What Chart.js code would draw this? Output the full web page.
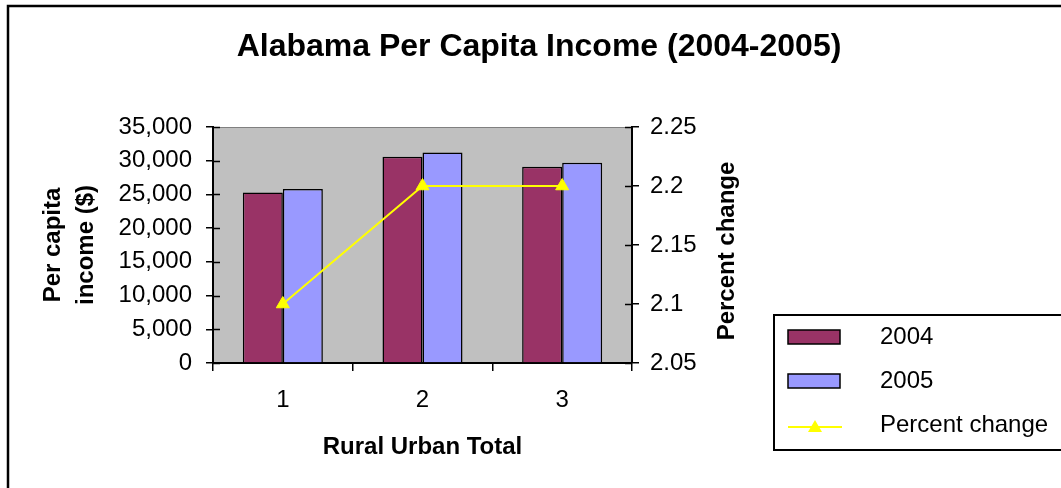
<!DOCTYPE html>
<html>
<head>
<meta charset="utf-8">
<script src="https://cdn.jsdelivr.net/npm/chart.js@4"></script>
<style>
  html, body { margin: 0; padding: 0; background: #fff; }
  #wrap { width: 1061px; height: 488px; }
</style>
</head>
<body>
<div id="wrap"><canvas id="incomeChart" width="1061" height="488"></canvas></div>
<script>
const categories = ["1", "2", "3"];
const income2004 = [25300, 30600, 29100];
const income2005 = [25800, 31200, 29700];
const percentChange = [2.1, 2.2, 2.2];
const rightAxisTitle = "Percent change";

const FONT = "Arial, 'Liberation Sans', sans-serif";

// grey plot area, outer frame, inward tick marks, right axis title
const chartDecor = {
  id: "chartDecor",
  beforeDraw(chart) {
    const { ctx, chartArea: a } = chart;
    ctx.save();
    ctx.fillStyle = "#c0c0c0";
    ctx.fillRect(a.left, a.top, a.right - a.left, a.bottom - a.top);
    ctx.strokeStyle = "#808080";
    ctx.lineWidth = 1;
    ctx.beginPath();
    ctx.moveTo(a.left, a.top + 0.5);
    ctx.lineTo(a.right, a.top + 0.5);
    ctx.stroke();
    // outer frame (only top and left edges visible)
    ctx.strokeStyle = "#000";
    ctx.lineWidth = 2.5;
    ctx.beginPath();
    ctx.moveTo(8, chart.height + 5);
    ctx.lineTo(8, 6);
    ctx.lineTo(chart.width + 5, 6);
    ctx.stroke();
    ctx.restore();
  },
  afterDraw(chart) {
    const { ctx, chartArea: a } = chart;
    ctx.save();
    ctx.strokeStyle = "#000";
    ctx.lineWidth = 1.5;
    ["y", "y1"].forEach((id) => {
      const s = chart.scales[id];
      const x = id === "y" ? s.right : s.left;
      const dir = id === "y" ? 1 : -1;
      s.ticks.forEach((t, i) => {
        const py = Math.round(s.getPixelForTick(i)) + 0.5;
        ctx.beginPath();
        ctx.moveTo(x, py);
        ctx.lineTo(x + dir * 7, py);
        ctx.stroke();
      });
    });
    // right axis title reads bottom-to-top like the original
    const s1 = chart.scales.y1;
    ctx.translate(s1.left + 95, (a.top + a.bottom) / 2 + 6);
    ctx.rotate(-Math.PI / 2);
    ctx.font = "bold 24px " + FONT;
    ctx.fillStyle = "#000";
    ctx.textAlign = "center";
    ctx.textBaseline = "middle";
    ctx.fillText(rightAxisTitle, 0, 0);
    ctx.restore();
  },
};

// legend box at lower right, partly cut by the page edge
const boxLegend = {
  id: "boxLegend",
  afterDraw(chart) {
    const { ctx } = chart;
    const ds = chart.data.datasets;
    ctx.save();
    ctx.fillStyle = "#fff";
    ctx.fillRect(773, 314, 300, 136);
    ctx.strokeStyle = "#000";
    ctx.lineWidth = 2;
    ctx.strokeRect(774, 315, 300, 135);
    ctx.font = "24px " + FONT;
    ctx.textBaseline = "middle";
    ctx.textAlign = "left";
    const rows = [337, 381, 425];
    ds.forEach((d, i) => {
      const y = rows[i];
      if (d.type === "line") {
        ctx.strokeStyle = d.borderColor;
        ctx.lineWidth = 2;
        ctx.beginPath();
        ctx.moveTo(788, y + 2);
        ctx.lineTo(842, y + 2);
        ctx.stroke();
        ctx.fillStyle = d.pointBackgroundColor;
        ctx.beginPath();
        ctx.moveTo(815, y - 5);
        ctx.lineTo(822, y + 7);
        ctx.lineTo(808, y + 7);
        ctx.closePath();
        ctx.fill();
      } else {
        ctx.fillStyle = d.backgroundColor;
        ctx.fillRect(788, y - 7, 52, 14);
        ctx.strokeStyle = "#000";
        ctx.lineWidth = 1.5;
        ctx.strokeRect(788, y - 7, 52, 14);
      }
      ctx.fillStyle = "#000";
      ctx.fillText(d.label, 880, y);
    });
    ctx.restore();
  },
};

const ctxIncome = document.querySelector("#incomeChart");
const incomeChart = new Chart(ctxIncome, {
  type: "bar",
  data: {
    labels: categories,
    datasets: [
      {
        label: "2004",
        data: income2004,
        backgroundColor: "#993366",
        borderColor: "#000",
        borderWidth: 1.5,
        yAxisID: "y",
        order: 1,
      },
      {
        label: "2005",
        data: income2005,
        backgroundColor: "#9999ff",
        borderColor: "#000",
        borderWidth: 1.5,
        yAxisID: "y",
        order: 1,
      },
      {
        type: "line",
        label: "Percent change",
        data: percentChange,
        borderColor: "#ffff00",
        borderWidth: 2,
        pointStyle: "triangle",
        pointRadius: 7.5,
        pointBackgroundColor: "#ffff00",
        pointBorderColor: "#ffff00",
        pointBorderWidth: 1,
        tension: 0,
        yAxisID: "y1",
        order: 0,
      },
    ],
  },
  options: {
    responsive: false,
    animation: false,
    layout: { padding: { left: 17, top: 0, right: 0, bottom: 0 } },
    datasets: {
      bar: { categoryPercentage: 0.573, barPercentage: 1 },
    },
    plugins: {
      legend: { display: false },
      tooltip: { enabled: false },
      title: {
        display: true,
        text: "Alabama Per Capita Income (2004-2005)",
        color: "#000",
        font: { family: FONT, size: 32, weight: "bold" },
        padding: { top: 28, bottom: 60.6 },
      },
    },
    scales: {
      x: {
        afterFit(scale) { scale.height = 125; },
        grid: { drawOnChartArea: false, tickLength: 8, color: "#000", lineWidth: 1.5 },
        border: { color: "#000", width: 2 },
        ticks: { color: "#000", padding: 15, font: { family: FONT, size: 24 } },
        title: {
          display: true,
          text: "Rural Urban Total",
          color: "#000",
          font: { family: FONT, size: 24, weight: "bold" },
          padding: { top: 0, bottom: 26 },
        },
      },
      y: {
        position: "left",
        min: 0,
        max: 35000,
        afterFit(scale) { scale.width = 196; },
        grid: { drawOnChartArea: false, tickLength: 7, color: "#000", lineWidth: 1.5 },
        border: { color: "#000", width: 2 },
        ticks: { stepSize: 5000, color: "#000", padding: 14, font: { family: FONT, size: 24 } },
        title: {
          display: true,
          text: ["Per capita", "income ($)"],
          color: "#000",
          font: { family: FONT, size: 24, weight: "bold", lineHeight: 1.375 },
          padding: { top: 19.5, bottom: 0 },
        },
      },
      y1: {
        position: "right",
        min: 2.05,
        max: 2.25,
        afterFit(scale) { scale.width = 429; },
        grid: { drawOnChartArea: false, tickLength: 7, color: "#000", lineWidth: 1.5 },
        border: { color: "#000", width: 2 },
        ticks: {
          stepSize: 0.05,
          color: "#000",
          padding: 11,
          font: { family: FONT, size: 24 },
          callback: (v) => String(Number(v.toFixed(2))),
        },
        title: { display: false },
      },
    },
  },
  plugins: [chartDecor, boxLegend],
});
</script>
</body>
</html>
